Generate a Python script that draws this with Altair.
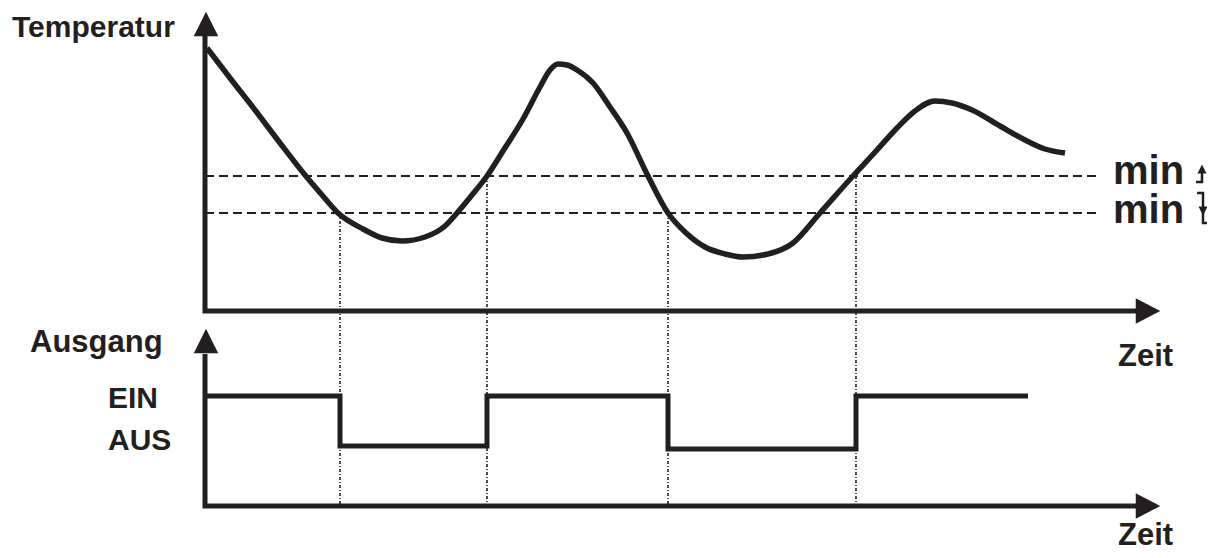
import altair as alt
import pandas as pd

INK = "#231f20"

# Temperature curve (time position, temperature height)
curve_zeit = [207, 230, 255, 280, 305, 322, 338, 363, 382, 402, 425, 445, 457, 472, 487, 503,
              523, 540, 550, 558, 567, 577, 593, 610, 627, 648, 668, 685, 705, 725, 743, 768,
              793, 820, 853, 877, 897, 915, 935, 952, 972, 1000, 1025, 1045, 1065]
curve_temp = [48, 78, 110, 143, 175, 195, 213, 229, 238, 241, 237, 226, 213, 195, 176, 151,
              119, 87, 70, 64, 65, 70, 83, 107, 133, 176, 213, 232, 247, 254, 257, 254,
              243, 213, 176, 150, 128, 111, 101, 103, 110, 126, 140, 149, 153]

# Output (EIN / AUS) step signal
step_zeit = [205, 340, 340, 487, 487, 668, 668, 856, 856, 1028]
step_level = [396, 396, 446, 446, 396, 396, 449, 449, 396, 396]

# Thresholds
threshold_names = ["min_up", "min_down"]
threshold_level = [176, 213]
threshold_start = [205, 205]
threshold_end = [1100, 1100]

# Switching instants (vertical dotted guides)
switch_zeit = [340, 487, 668, 856]
switch_top = [213, 176, 213, 176]
switch_bottom = [506, 506, 506, 506]

# Axis polylines
axis_group = ["top", "top", "top", "bottom", "bottom", "bottom"]
axis_x = [205, 205, 1140, 205, 205, 1140]
axis_y = [36, 311, 311, 354, 506, 506]

# Arrow heads
head_x = [206, 206, 1148, 1148]
head_y = [24, 341, 311, 506]
head_dir = ["up", "up", "right", "right"]

# Labels
label_text = ["Temperatur", "Ausgang", "EIN", "AUS", "Zeit", "Zeit", "min", "min"]
label_x = [12, 30, 108, 108, 1118, 1118, 1113, 1113]
label_y = [37, 352, 408, 450, 366, 545, 184, 223]
label_size = [30, 31, 30, 30, 31, 31, 40, 40]

# Little hysteresis glyphs after "min"
glyph_group = ["a", "a", "a", "b", "b", "b", "b"]
glyph_x = [1202, 1202, 1196, 1197, 1203, 1203, 1207]
glyph_y = [172, 182, 182, 193, 193, 223, 223]
glyph_head_x = [1202, 1203]
glyph_head_y = [169, 211]
glyph_head_dir = ["up", "down"]

X = alt.X("x:Q", scale=alt.Scale(domain=[8, 1207], nice=False, zero=False), axis=None)
Y = alt.Y("y:Q", scale=alt.Scale(domain=[8, 550], nice=False, zero=False, reverse=True), axis=None)

curve_df = pd.DataFrame({"x": curve_zeit, "y": curve_temp, "i": range(len(curve_zeit))})
step_df = pd.DataFrame({"x": step_zeit, "y": step_level, "i": range(len(step_zeit))})
thr_df = pd.DataFrame({"name": threshold_names, "y": threshold_level,
                       "x": threshold_start, "x2": threshold_end})
sw_df = pd.DataFrame({"x": switch_zeit, "y": switch_top, "y2": switch_bottom})
axis_df = pd.DataFrame({"g": axis_group, "x": axis_x, "y": axis_y, "i": range(len(axis_x))})
head_df = pd.DataFrame({"x": head_x, "y": head_y, "d": head_dir})
label_df = pd.DataFrame({"t": label_text, "x": label_x, "y": label_y, "s": label_size})
glyph_df = pd.DataFrame({"g": glyph_group, "x": glyph_x, "y": glyph_y, "i": range(len(glyph_x))})
ghead_df = pd.DataFrame({"x": glyph_head_x, "y": glyph_head_y, "d": glyph_head_dir})

curve = alt.Chart(curve_df).mark_line(
    interpolate="monotone", color=INK, strokeWidth=5.5, strokeCap="butt"
).encode(x=X, y=Y, order="i:Q")

step = alt.Chart(step_df).mark_line(
    color=INK, strokeWidth=5, strokeJoin="miter", strokeCap="butt"
).encode(x=X, y=Y, order="i:Q")

thresholds = alt.Chart(thr_df).mark_rule(
    color=INK, strokeWidth=2, strokeDash=[9, 5]
).encode(x=X, x2="x2:Q", y=Y)

switches = alt.Chart(sw_df).mark_rule(
    color=INK, strokeWidth=1.6, strokeDash=[3, 2, 1, 2]
).encode(x=X, y=Y, y2="y2:Q")

axes = alt.Chart(axis_df).mark_line(
    color=INK, strokeWidth=5, strokeJoin="miter", strokeCap="butt"
).encode(x=X, y=Y, detail="g:N", order="i:Q")

shape_scale = alt.Scale(
    domain=["up", "right", "down"],
    range=["M-1,1L0,-1L1,1Z", "M-1,-1.05L1,0L-1,1.05Z", "M-1,-1L0,1L1,-1Z"],
)

heads = alt.Chart(head_df).mark_point(
    filled=True, color=INK, opacity=1, size=600, strokeWidth=0
).encode(x=X, y=Y, shape=alt.Shape("d:N", scale=shape_scale, legend=None))

labels = alt.Chart(label_df).mark_text(
    font="Liberation Sans", fontWeight="bold", align="left", baseline="alphabetic", color=INK
).encode(x=X, y=Y, text="t:N", size=alt.Size("s:Q", scale=None, legend=None))

glyphs = alt.Chart(glyph_df).mark_line(
    color=INK, strokeWidth=2.5, strokeJoin="miter"
).encode(x=X, y=Y, detail="g:N", order="i:Q")

glyph_heads = alt.Chart(ghead_df).mark_point(
    filled=True, color=INK, opacity=1, size=80, strokeWidth=0
).encode(x=X, y=Y, shape=alt.Shape("d:N", scale=shape_scale, legend=None))

chart = alt.layer(
    thresholds, switches, axes, heads, curve, step, labels, glyphs, glyph_heads
).properties(
    width=1199, height=542, padding=0, background="white",
    autosize=alt.AutoSizeParams(type="none"),
).configure_view(stroke=None)

chart.save("out.html", embed_options={"renderer": "svg", "actions": False})
